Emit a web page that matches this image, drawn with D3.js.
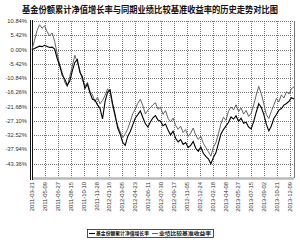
<!DOCTYPE html>
<html>
<head>
<meta charset="utf-8">
<script src="https://cdn.jsdelivr.net/npm/d3@7"></script>
<style>
  html, body { margin: 0; padding: 0; background: #fff; }
  #vis { width: 300px; height: 243px; }
  text { font-family: "Liberation Sans", Arial, sans-serif; }
  .cjk { font-family: "Noto Sans CJK SC", sans-serif; }
</style>
</head>
<body>
<div id="vis"></div>
<script>
// chart text
var chartTitle = "基金份额累计净值增长率与同期业绩比较基准收益率的历史走势对比图";
var fundName = "基金份额累计净值增长率";
var benchName = "业绩比较基准收益率";

// y axis tick values (percent)
var yTicks = [10.84, 5.42, 0.00, -5.42, -10.84, -16.26, -21.68, -27.10, -32.52, -37.94, -43.36];

// x axis tick labels
var xLabels = [
  "2011-03-21", "2011-05-09", "2011-06-27", "2011-08-15", "2011-10-10",
  "2011-11-28", "2012-01-16", "2012-03-05", "2012-04-23", "2012-06-11",
  "2012-07-30", "2012-09-17", "2012-11-05", "2012-12-24", "2013-02-18",
  "2013-04-08", "2013-05-27", "2013-07-15", "2013-09-02", "2013-10-21",
  "2013-12-09"
];

// fund cumulative NAV growth (%)
var fundValues = [
  0.0, 0.4, 0.9, 1.3, 1.1, 1.6, 1.2, 0.8, 0.9, 0.2,
  -3.4, -6.1, -9.8, -11.2, -13.6, -12.0, -8.1, -4.9, -3.8, -8.6,
  -10.3, -14.8, -13.1, -16.4, -18.9, -19.2, -21.0, -22.4, -26.3, -19.8,
  -16.2, -15.3, -20.5, -24.8, -29.7, -32.1, -35.2, -36.4, -33.0, -31.1,
  -28.6, -26.0, -24.7, -23.3, -25.8, -28.2, -29.4, -27.5, -25.9, -25.1,
  -26.8, -27.2, -28.9, -28.3, -30.6, -32.4, -31.0, -33.7, -35.1, -34.2,
  -36.0, -35.3, -37.2, -36.4, -34.9, -37.5, -38.6, -37.0, -39.4, -40.6,
  -41.5, -43.4, -41.0, -39.2, -35.6, -32.1, -30.4, -29.0, -27.7, -25.6,
  -26.4, -25.2, -27.3, -26.1, -28.0, -27.6, -29.5, -30.1, -27.4, -23.8,
  -20.6, -21.9, -24.6, -28.3, -30.9, -29.0, -26.2, -24.7, -23.0, -22.4,
  -21.1, -20.5, -19.7, -18.3, -18.8
];

// benchmark return (%)
var benchValues = [
  0.0, 3.5, 7.2, 9.4, 8.1, 9.0, 6.8, 5.2, 6.3, 3.1,
  -1.5, -5.8, -8.7, -12.4, -14.1, -10.2, -6.3, -2.2, -4.8, -7.9,
  -11.6, -13.9, -12.5, -15.8, -17.2, -19.8, -18.1, -20.6, -19.3, -17.4,
  -14.9, -16.3, -21.4, -25.6, -28.9, -31.2, -33.5, -32.0, -30.1, -27.4,
  -24.3, -22.6, -20.4, -18.9, -21.3, -24.5, -23.0, -22.1, -21.0, -20.2,
  -22.7, -21.9, -24.6, -23.2, -26.1, -27.5, -26.0, -28.8, -30.3, -29.1,
  -31.5, -30.4, -33.0, -31.7, -29.8, -32.6, -34.1, -32.9, -35.6, -37.2,
  -38.8, -40.5, -37.1, -35.4, -31.8, -28.2, -25.7, -26.9, -23.4, -21.8,
  -22.9, -21.0, -23.6, -22.2, -24.5, -23.1, -25.4, -24.2, -21.0, -17.3,
  -14.0, -16.8, -20.5, -24.7, -26.2, -23.5, -21.1, -18.6, -19.9, -17.2,
  -18.4, -16.0, -16.9, -14.8, -14.2
];

window.addEventListener('load', function () {
  var svg = d3.select("#vis").append("svg")
    .attr("width", 300)
    .attr("height", 243);

  var left = 32, right = 294, top = 21, bottom = 178;

  var x = d3.scaleLinear()
    .domain([0, fundValues.length - 1])
    .range([left, right]);

  // one extra unlabeled step below the last tick
  var y = d3.scaleLinear()
    .domain([-48.78, 10.84])
    .range([bottom, top]);

  var xTick = d3.scalePoint()
    .domain(xLabels)
    .range([left, 290]);

  // title
  svg.append("text")
    .attr("class", "cjk")
    .attr("x", 22)
    .attr("y", 12.5)
    .attr("textLength", 256)
    .attr("lengthAdjust", "spacingAndGlyphs")
    .style("font-size", "8.8px")
    .style("font-weight", "bold")
    .attr("fill", "#111")
    .text(chartTitle);

  // horizontal grid
  svg.append("g").selectAll("line")
    .data(yTicks)
    .enter()
    .append("line")
    .attr("x1", left).attr("x2", right)
    .attr("y1", d => Math.round(y(d)) + 0.5)
    .attr("y2", d => Math.round(y(d)) + 0.5)
    .attr("stroke", "#555")
    .attr("stroke-width", 0.8)
    .attr("stroke-dasharray", "1,1");

  // vertical grid
  svg.append("g").selectAll("line")
    .data(xLabels.slice(1))
    .enter()
    .append("line")
    .attr("x1", d => Math.round(xTick(d)) + 0.5)
    .attr("x2", d => Math.round(xTick(d)) + 0.5)
    .attr("y1", top).attr("y2", bottom)
    .attr("stroke", "#555")
    .attr("stroke-width", 0.8)
    .attr("stroke-dasharray", "1,1");

  // right border
  svg.append("line")
    .attr("x1", right + 0.5).attr("x2", right + 0.5)
    .attr("y1", top).attr("y2", bottom)
    .attr("stroke", "#777");

  // bottom bar
  svg.append("line")
    .attr("x1", left).attr("x2", right)
    .attr("y1", bottom + 0.5).attr("y2", bottom + 0.5)
    .attr("stroke", "#bbb")
    .attr("stroke-width", 2.5);

  // left axis (double line)
  svg.append("line")
    .attr("x1", left - 1.5).attr("x2", left - 1.5)
    .attr("y1", top - 1).attr("y2", bottom + 2)
    .attr("stroke", "#111");
  svg.append("line")
    .attr("x1", left + 0.5).attr("x2", left + 0.5)
    .attr("y1", top - 1).attr("y2", bottom + 2)
    .attr("stroke", "#111");

  // y labels
  svg.append("g").selectAll("text")
    .data(yTicks)
    .enter()
    .append("text")
    .attr("x", 27)
    .attr("y", d => y(d))
    .attr("dy", "0.35em")
    .attr("text-anchor", "end")
    .style("font-size", "5.8px")
    .attr("fill", "#333")
    .text(d => d.toFixed(2) + "%");

  // x labels (rotated)
  svg.append("g").selectAll("text")
    .data(xLabels)
    .enter()
    .append("text")
    .attr("transform", d => "translate(" + xTick(d) + "," + (bottom + 4) + ") rotate(-90)")
    .attr("dy", "0.35em")
    .attr("text-anchor", "end")
    .style("font-size", "5.8px")
    .attr("fill", "#333")
    .text(d => d);

  // lines
  var line = d3.line()
    .x((d, i) => x(i))
    .y(d => y(d));

  svg.append("path")
    .datum(benchValues)
    .attr("d", line)
    .attr("fill", "none")
    .attr("stroke", "#555")
    .attr("stroke-width", 0.9);

  svg.append("path")
    .datum(fundValues)
    .attr("d", line)
    .attr("fill", "none")
    .attr("stroke", "#000")
    .attr("stroke-width", 1.1);

  // legend
  var lg = svg.append("g");
  lg.append("rect")
    .attr("x", 87.5).attr("y", 229.5)
    .attr("width", 126).attr("height", 8)
    .attr("fill", "#fff")
    .attr("stroke", "#222")
    .attr("stroke-width", 0.8);

  var items = [
    { name: fundName, x: 89, color: "#000", w: 1.1, len: 53 },
    { name: benchName, x: 152, color: "#555", w: 0.9, len: 52 }
  ];
  items.forEach(function (it) {
    lg.append("line")
      .attr("x1", it.x).attr("x2", it.x + 6)
      .attr("y1", 233.5).attr("y2", 233.5)
      .attr("stroke", it.color)
      .attr("stroke-width", it.w);
    lg.append("text")
      .attr("class", "cjk")
      .attr("x", it.x + 7)
      .attr("y", 233.5)
      .attr("dy", "0.35em")
      .attr("textLength", it.len)
      .attr("lengthAdjust", "spacingAndGlyphs")
      .style("font-size", "4.8px")
      .style("font-weight", "bold")
      .attr("fill", "#111")
      .text(it.name);
  });
})
</script>
</body>
</html>
